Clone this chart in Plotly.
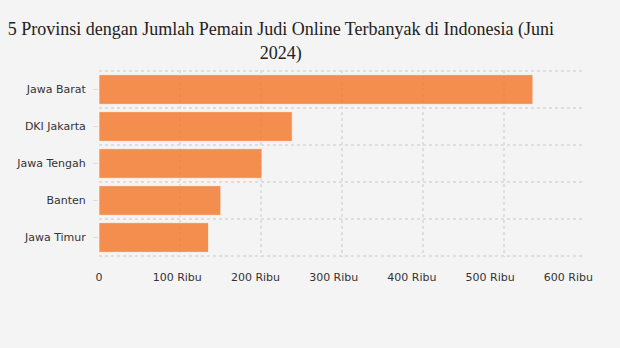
import plotly.graph_objects as go

categories = ["Jawa Barat", "DKI Jakarta", "Jawa Tengah", "Banten", "Jawa Timur"]
values = [535644, 238568, 201122, 150302, 135227]
tick_vals = [0, 100000, 200000, 300000, 400000, 500000, 600000]
tick_text = ["0", "100 Ribu", "200 Ribu", "300 Ribu", "400 Ribu", "500 Ribu", "600 Ribu"]
title = "5 Provinsi dengan Jumlah Pemain Judi Online Terbanyak di Indonesia (Juni<br>2024)"

BG = "#f4f4f4"
GRID = "#dedede"
TXT = "#333333"
FONT = "Verdana, DejaVu Sans, sans-serif"

fig = go.Figure()
fig.add_trace(go.Bar(
    x=values, y=categories, orientation="h",
    marker=dict(color="rgba(242,116,38,0.8)",
                line=dict(color="rgba(255,255,255,0.6)", width=1)),
    hoverinfo="x+y",
))
# invisible trace for the label axis
fig.add_trace(go.Scatter(x=[tick_vals[0], tick_vals[-1]], y=[categories[0], categories[0]],
                         xaxis="x2", yaxis="y", mode="markers",
                         marker=dict(opacity=0), hoverinfo="skip", showlegend=False))

shapes = []
for i in range(len(categories) + 1):
    shapes.append(dict(type="line", xref="paper", yref="y", x0=0, x1=1,
                       y0=i - 0.5, y1=i - 0.5, layer="below",
                       line=dict(color=GRID, width=2, dash="dot")))

fig.update_layout(
    width=620, height=348,
    paper_bgcolor=BG, plot_bgcolor=BG,
    margin=dict(l=99, r=35, t=70, b=91),
    showlegend=False,
    bargap=0.2,
    title=dict(text=title, x=0.453, xanchor="center", xref="container",
               y=0.898, yanchor="top", yref="container",
               font=dict(family="Liberation Serif, Times New Roman, serif", size=18, color="#222222")),
    xaxis=dict(range=[0, 600000], tickvals=tick_vals, showticklabels=False,
               showgrid=True, gridcolor=GRID, gridwidth=2, griddash="dot",
               zeroline=False, showline=False, ticks=""),
    xaxis2=dict(range=[0, 621200], overlaying="x", anchor="y", side="bottom",
                tickvals=tick_vals, ticktext=tick_text, showgrid=False, zeroline=False,
                showline=False, ticks="", ticklabelstandoff=12,
                tickfont=dict(family=FONT, size=11, color=TXT)),
    yaxis=dict(autorange="reversed", showgrid=False, zeroline=False, showline=False,
               ticks="outside", ticklen=5, tickcolor=GRID, tickwidth=1,
               ticklabelstandoff=5,
               tickfont=dict(family=FONT, size=11, color=TXT)),
    shapes=shapes,
)

fig.write_html("out.html")
